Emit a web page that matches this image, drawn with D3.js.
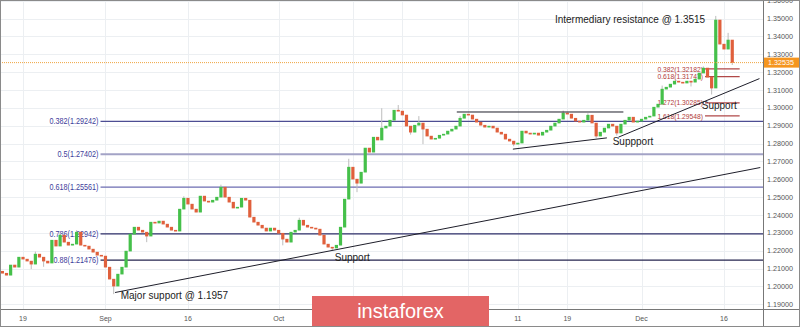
<!DOCTYPE html>
<html>
<head>
<meta charset="utf-8">
<script src="https://cdn.jsdelivr.net/npm/d3@7"></script>
<style>
  body { margin: 0; background: #fff; }
  svg { display: block; }
  text { font-family: "Liberation Sans", Arial, sans-serif; }
</style>
</head>
<body>
<svg width="800" height="327"></svg>
<script>

// closes, one candle per half trading day (day 0 = Aug 19)
var firstOpen = 1.2085;
var closes = [
  1.2074, 1.2063, 1.2120, 1.2108, 1.2164, 1.2153, 1.2142, 1.2125, 1.2181, 1.2164,
  1.2142, 1.2131, 1.2259, 1.2226, 1.2287, 1.2248, 1.2231, 1.2237, 1.2304, 1.2231,
  1.2226, 1.2209, 1.2192, 1.2175, 1.2170, 1.2108, 1.2041, 1.2002, 1.2069, 1.2108,
  1.2198, 1.2293, 1.2332, 1.2315, 1.2304, 1.2282, 1.2360, 1.2355, 1.2366, 1.2349,
  1.2332, 1.2315, 1.2310, 1.2433, 1.2494, 1.2461, 1.2433, 1.2416, 1.2506, 1.2478,
  1.2472, 1.2483, 1.2500, 1.2556, 1.2500, 1.2472, 1.2439, 1.2444, 1.2494, 1.2483,
  1.2388, 1.2360, 1.2343, 1.2327, 1.2310, 1.2327, 1.2315, 1.2298, 1.2265, 1.2248,
  1.2304, 1.2315, 1.2371, 1.2343, 1.2332, 1.2327, 1.2321, 1.2287, 1.2237, 1.2220,
  1.2215, 1.2231, 1.2332, 1.2489, 1.2668, 1.2601, 1.2578, 1.2640, 1.2775, 1.2752,
  1.2836, 1.2820, 1.2887, 1.2898, 1.2931, 1.2987, 1.2982, 1.2960, 1.2898, 1.2864,
  1.2903, 1.2915, 1.2881, 1.2842, 1.2825, 1.2830, 1.2847, 1.2853, 1.2870, 1.2881,
  1.2898, 1.2942, 1.2965, 1.2960, 1.2937, 1.2920, 1.2903, 1.2892, 1.2898, 1.2887,
  1.2864, 1.2853, 1.2825, 1.2814, 1.2797, 1.2803, 1.2870, 1.2859, 1.2853, 1.2859,
  1.2847, 1.2864, 1.2875, 1.2898, 1.2915, 1.2937, 1.2971, 1.2965, 1.2942, 1.2926,
  1.2920, 1.2931, 1.2959, 1.2915, 1.2842, 1.2864, 1.2887, 1.2909, 1.2898, 1.2859,
  1.2909, 1.2931, 1.2948, 1.2920, 1.2926, 1.2937, 1.2948, 1.2954, 1.3004, 1.3021,
  1.3105, 1.3116, 1.3133, 1.3150, 1.3144, 1.3139, 1.3150, 1.3144, 1.3161, 1.3195,
  1.3223, 1.3172, 1.3111, 1.3492, 1.3357, 1.3329, 1.3380, 1.32535
];
// notable wicks: [candle index, price]
var wickHigh = [[8, 1.2195], [14, 1.2300], [18, 1.2315], [44, 1.2505], [53, 1.2570],
  [72, 1.2385], [84, 1.2715], [92, 1.2998], [96, 1.3016], [101, 1.2954], [111, 1.2955],
  [136, 1.2985], [142, 1.2970], [160, 1.3125], [170, 1.3232], [173, 1.3515], [176, 1.3420]];
var wickLow = [[7, 1.2097], [10, 1.2110], [27, 1.1957], [35, 1.2248], [68, 1.2230],
  [80, 1.2200], [86, 1.2528], [99, 1.2850], [102, 1.2797], [124, 1.2785], [144, 1.2830],
  [149, 1.2845], [167, 1.3120], [172, 1.3075], [177, 1.3240]];

var lastPrice = 1.32535;

var priceTicks = [1.19, 1.20, 1.21, 1.22, 1.23, 1.24, 1.25, 1.26, 1.27, 1.28, 1.29,
  1.30, 1.31, 1.32, 1.33, 1.34, 1.35, 1.36];
var dayTicks = [0, 10, 20, 31, 40, 46, 54, 60, 66, 75, 85];
// the three under the logo are not readable in the picture
var dayLabels = ["19", "Sep", "16", "Oct", "", "", "", "11", "19", "Dec", "16"];

// fibonacci retracement (left) and the small one (right)
var fibLevels = ["0.382", "0.5", "0.618", "0.786", "0.88"];
var fibPrices = [1.29242, 1.27402, 1.25561, 1.22942, 1.21476];
var fibStartDay = 9.4;
var fib2Levels = ["0.382", "0.618", "1.272", "1.618"];
var fib2Prices = [1.32182, 1.31747, 1.30285, 1.29548];
var fib2Days = [82.7, 86.9];

// trend lines: [[day, price], [day, price]]
var trendLines = [
  [[11.16, 1.1966], [89.4, 1.2666]],
  [[59.4, 1.2769], [70.8, 1.2832]],
  [[52.6, 1.2977], [72.8, 1.2977]],
  [[72.2, 1.2836], [89.3, 1.3164]]
];

var notes = ["Intermediary resistance @ 1.3515", "Support", "Suppport", "Support", "Major support @ 1.1957"];
var noteAt = [[64.5, 1.3473], [82.3, 1.2995], [71.5, 1.2791], [37.8, 1.2141], [11.85, 1.1930]];

var svg = d3.select("svg");
var plotRight = 763, plotBottom = 309;

var x = d3.scaleLinear().domain([0, 85]).range([23, 724]);
var y = d3.scaleLinear().domain([1.19, 1.35]).range([304.3, 18.6]);

var candles = closes.map(function(c, i) {
  var o = i ? closes[i - 1] : firstOpen;
  return {day: -2.5 + i * 0.5, open: o, close: c, high: Math.max(o, c), low: Math.min(o, c)};
});
wickHigh.forEach(function(w) { candles[w[0]].high = Math.max(candles[w[0]].high, w[1]); });
wickLow.forEach(function(w) { candles[w[0]].low = Math.min(candles[w[0]].low, w[1]); });

// condensed look for the fib labels
function narrow(sel) {
  sel.each(function() {
    var len = this.getComputedTextLength();
    d3.select(this).attr("textLength", len * 0.84).attr("lengthAdjust", "spacingAndGlyphs");
  });
}

svg.append("defs").append("clipPath").attr("id", "plot")
  .append("rect").attr("width", plotRight).attr("height", plotBottom);

var g = svg.append("g").attr("clip-path", "url(#plot)");

// grid
g.selectAll(".hg").data(priceTicks).enter().append("line")
  .attr("x1", 0).attr("x2", plotRight)
  .attr("y1", function(d) { return Math.round(y(d)) + 0.5; })
  .attr("y2", function(d) { return Math.round(y(d)) + 0.5; })
  .attr("stroke", "#eceff2");
g.selectAll(".vg").data(dayTicks).enter().append("line")
  .attr("x1", function(d) { return Math.round(x(d)) + 0.5; })
  .attr("x2", function(d) { return Math.round(x(d)) + 0.5; })
  .attr("y1", 0).attr("y2", plotBottom)
  .attr("stroke", "#eceff2");

// left fib
var fibColors = ["#4d4d93", "#a3a3c6", "#6d6db2", "#2e2e68", "#25254f"];
var fibWidths = [1.2, 2.2, 1.2, 1.2, 1.2];
fibPrices.forEach(function(p, i) {
  g.append("line")
    .attr("x1", x(fibStartDay)).attr("x2", plotRight)
    .attr("y1", y(p)).attr("y2", y(p))
    .attr("stroke", fibColors[i]).attr("stroke-width", fibWidths[i]);
  g.append("text")
    .attr("x", x(fibStartDay) - 2).attr("y", y(p)).attr("dy", "0.35em")
    .attr("text-anchor", "end")
    .attr("font-size", 8.6)
    .attr("fill", "#3d3d9a")
    .text(fibLevels[i] + "(" + p.toFixed(5) + ")")
    .call(narrow);
});

// right fib
fib2Prices.forEach(function(p, i) {
  g.append("line")
    .attr("x1", x(fib2Days[0])).attr("x2", x(fib2Days[1]))
    .attr("y1", y(p)).attr("y2", y(p))
    .attr("stroke", "#b04848").attr("stroke-width", 1.3);
  g.append("text")
    .attr("x", x(fib2Days[0]) - 2).attr("y", y(p)).attr("dy", "0.33em")
    .attr("text-anchor", "end")
    .attr("font-size", 8)
    .attr("fill", "#b03a3a")
    .text(fib2Levels[i] + "(" + p.toFixed(5) + ")")
    .call(narrow);
});

// candles
var bw = 3.2;
var c = g.append("g").selectAll("g").data(candles).enter().append("g");
c.append("line")
  .attr("x1", function(d) { return x(d.day); })
  .attr("x2", function(d) { return x(d.day); })
  .attr("y1", function(d) { return y(d.high); })
  .attr("y2", function(d) { return y(d.low); })
  .attr("stroke", "#bdbdbd");
c.append("rect")
  .attr("x", function(d) { return x(d.day) - bw / 2; })
  .attr("width", bw)
  .attr("y", function(d) { return y(Math.max(d.open, d.close)) - 0.3; })
  .attr("height", function(d) { return Math.max(1.6, Math.abs(y(d.open) - y(d.close)) + 0.6); })
  .attr("fill", function(d) { return d.close >= d.open ? "#45c04a" : "#e0603c"; });

// trend lines
g.selectAll(".tl").data(trendLines).enter().append("line")
  .attr("x1", function(d) { return x(d[0][0]); })
  .attr("y1", function(d) { return y(d[0][1]); })
  .attr("x2", function(d) { return x(d[1][0]); })
  .attr("y2", function(d) { return y(d[1][1]); })
  .attr("stroke", "#1e1e2a").attr("stroke-width", 1);

// notes
g.selectAll(".note").data(notes).enter().append("text")
  .attr("x", function(d, i) { return x(noteAt[i][0]); })
  .attr("y", function(d, i) { return y(noteAt[i][1]); })
  .attr("font-size", 10)
  .attr("fill", "#222")
  .text(function(d) { return d; });

// last price line
g.append("line")
  .attr("x1", 0).attr("x2", plotRight)
  .attr("y1", y(lastPrice)).attr("y2", y(lastPrice))
  .attr("stroke", "#f0a640").attr("stroke-width", 1)
  .attr("stroke-dasharray", "1,1");

// price axis
var ya = svg.append("g");
ya.selectAll("text").data(priceTicks).enter().append("text")
  .attr("x", plotRight + 4)
  .attr("y", function(d) { return y(d); })
  .attr("dy", "0.35em")
  .attr("font-size", 7.2)
  .attr("fill", "#555")
  .text(function(d) { return d.toFixed(5); });

ya.append("rect")
  .attr("x", plotRight).attr("y", y(lastPrice) - 5)
  .attr("width", 800 - plotRight).attr("height", 10)
  .attr("fill", "#f5951f");
ya.append("text")
  .attr("x", plotRight + 5).attr("y", y(lastPrice)).attr("dy", "0.35em")
  .attr("font-size", 7.2).attr("fill", "#fff")
  .text(lastPrice.toFixed(5));

// time axis
svg.append("g").selectAll("text").data(dayTicks).enter().append("text")
  .attr("x", function(d) { return x(d); })
  .attr("y", 320.5)
  .attr("text-anchor", "middle")
  .attr("font-size", 7)
  .attr("fill", "#555")
  .text(function(d, i) { return dayLabels[i]; });

// axis lines and frame
svg.append("line").attr("x1", 0).attr("x2", 800).attr("y1", plotBottom + 0.5).attr("y2", plotBottom + 0.5).attr("stroke", "#777");
svg.append("line").attr("x1", plotRight + 0.5).attr("x2", plotRight + 0.5).attr("y1", 0).attr("y2", 327).attr("stroke", "#777");
svg.append("rect").attr("x", 0.5).attr("y", 0.5).attr("width", 799).attr("height", 326)
  .attr("fill", "none").attr("stroke", "#8a8a8a");

// watermark
svg.append("rect").attr("x", 312).attr("y", 296).attr("width", 177).attr("height", 30).attr("fill", "#e36565");
svg.append("text").attr("x", 400.5).attr("y", 318).attr("text-anchor", "middle")
  .attr("font-size", 20).attr("fill", "#fff").text("instaforex");

</script>
</body>
</html>
